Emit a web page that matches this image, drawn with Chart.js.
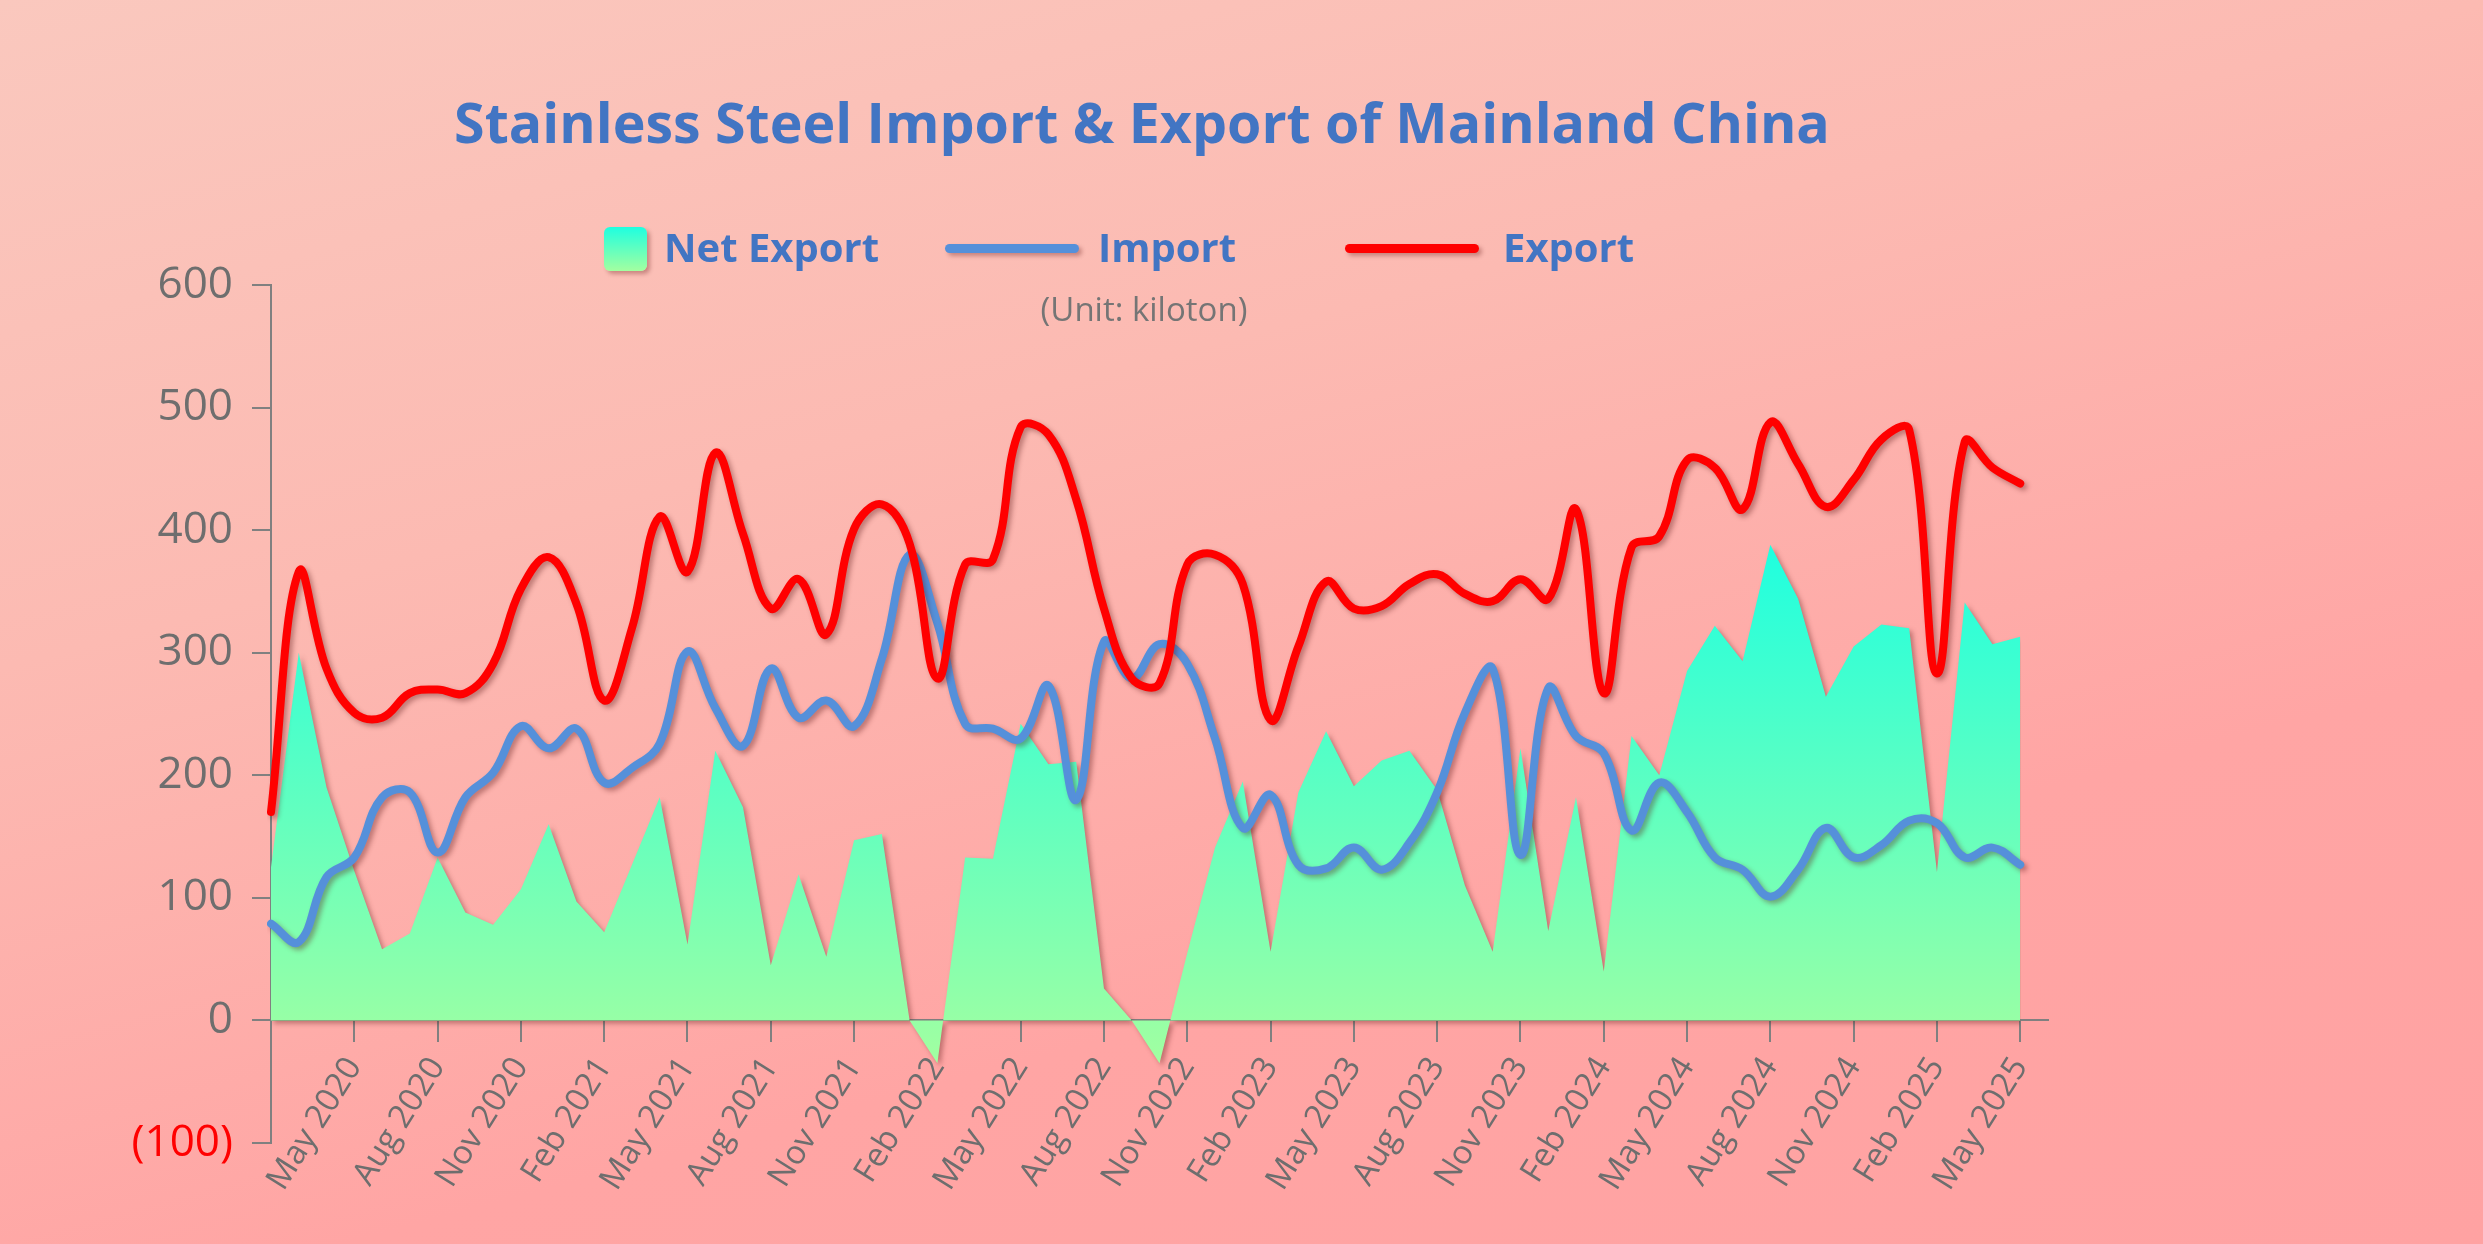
<!DOCTYPE html>
<html>
<head>
<meta charset="utf-8">
<title>Stainless Steel Import & Export of Mainland China</title>
<script src="https://cdn.jsdelivr.net/npm/chart.js@4.4.1/dist/chart.umd.min.js"></script>
<style>
  html, body { margin: 0; padding: 0; }
  body {
    width: 2483px; height: 1244px; overflow: hidden; position: relative;
    background: linear-gradient(165deg, #FAC8BE 0%, #FCBAB2 35%, #FFA5A4 70%, #FFA2A2 100%);
    font-family: "Open Sans", sans-serif;
  }
  #chart { position: absolute; left: 0; top: 0; }
  .txt { position: absolute; line-height: 1; white-space: nowrap; }
  .title { font-size: 55.5px; font-weight: 700; color: #4275C3; top: 94px; left: 1142px; transform: translateX(-50%); }
  .leg { font-size: 40px; font-weight: 700; color: #4275C3; top: 227px; }
  .unit { font-size: 33px; color: #757575; top: 292px; left: 1144px; transform: translateX(-50%); }
  .swatch { position: absolute; left: 604px; top: 227px; width: 43px; height: 44px; border-radius: 6px;
    background: linear-gradient(#1EFFE0, #A3FFA0); box-shadow: 3px 3px 4px rgba(80,0,0,0.3); }
  .lline { position: absolute; top: 244px; width: 134px; height: 9px; border-radius: 5px;
    box-shadow: 3px 3px 4px rgba(80,0,0,0.3); }
</style>
</head>
<body>
<canvas id="chart" width="2483" height="1244"></canvas>

<div class="txt title">Stainless Steel Import &amp; Export of Mainland China</div>
<div class="swatch"></div>
<div class="txt leg" style="left:664px">Net Export</div>
<div class="lline" style="left:945px;background:#5590DA"></div>
<div class="txt leg" style="left:1098px">Import</div>
<div class="lline" style="left:1345px;background:#FF0000"></div>
<div class="txt leg" style="left:1503px">Export</div>
<div class="txt unit">(Unit: kiloton)</div>

<script>
// categorias (mensal, fev/2020 a jun/2025 - o ultimo fica vazio)
const months = [
  'Feb 2020','Mar 2020','Apr 2020','May 2020','Jun 2020','Jul 2020','Aug 2020','Sep 2020','Oct 2020','Nov 2020','Dec 2020',
  'Jan 2021','Feb 2021','Mar 2021','Apr 2021','May 2021','Jun 2021','Jul 2021','Aug 2021','Sep 2021','Oct 2021','Nov 2021','Dec 2021',
  'Jan 2022','Feb 2022','Mar 2022','Apr 2022','May 2022','Jun 2022','Jul 2022','Aug 2022','Sep 2022','Oct 2022','Nov 2022','Dec 2022',
  'Jan 2023','Feb 2023','Mar 2023','Apr 2023','May 2023','Jun 2023','Jul 2023','Aug 2023','Sep 2023','Oct 2023','Nov 2023','Dec 2023',
  'Jan 2024','Feb 2024','Mar 2024','Apr 2024','May 2024','Jun 2024','Jul 2024','Aug 2024','Sep 2024','Oct 2024','Nov 2024','Dec 2024',
  'Jan 2025','Feb 2025','Mar 2025','Apr 2025','May 2025','Jun 2025'
];

// series (kiloton)
const exportsKt = [
  170, 366, 287, 251, 247, 267, 270, 267, 291, 352, 378,
  340, 261, 320, 411, 366, 463, 397, 336, 360, 315, 401, 421,
  389, 279, 372, 376, 484, 478, 425, 336, 279, 275, 372, 380,
  356, 245, 305, 358, 336, 338, 356, 364, 348, 342, 360, 344,
  417, 267, 386, 395, 457, 451, 417, 488, 454, 419, 441, 474,
  482, 283, 472, 451, 438
];
const importsKt = [
  79, 64, 117, 133, 182, 186, 137, 182, 202, 240, 222,
  238, 194, 206, 226, 301, 255, 224, 287, 247, 261, 240, 295,
  380, 324, 242, 238, 230, 273, 180, 309, 279, 307, 291, 230,
  157, 184, 127, 124, 141, 123, 145, 186, 251, 287, 135, 271,
  232, 218, 155, 194, 170, 133, 123, 101, 123, 157, 133, 143,
  163, 161, 133, 141, 127
];
const netExportKt = [
  125, 300, 190, 122, 58, 71, 133, 88, 78, 107, 160,
  97, 72, 127, 182, 62, 220, 174, 45, 119, 52, 147, 152,
  0, -35, 133, 132, 242, 209, 211, 26, 0, -35, 55, 141,
  195, 56, 186, 236, 191, 212, 220, 188, 110, 56, 222, 73,
  182, 40, 232, 200, 285, 322, 293, 388, 344, 264, 305, 323,
  320, 121, 341, 307, 313
];

const yMin = -100, yMax = 600, yStep = 100;

Chart.defaults.font.family = '"Open Sans", sans-serif';

// sombra suave nas series, igual ao grafico original
const shadowPlugin = {
  id: 'seriesShadow',
  beforeDatasetsDraw(chart) {
    const c = chart.ctx;
    c.save();
    c.shadowColor = 'rgba(90,20,20,0.38)';
    c.shadowBlur = 5;
    c.shadowOffsetX = 3;
    c.shadowOffsetY = 3;
  },
  afterDatasetsDraw(chart) {
    chart.ctx.restore();
  }
};

// so mostra o rotulo a cada 3 meses (mai, ago, nov, fev)
function showTick(i) {
  return i > 0 && i < months.length - 1 && i % 3 === 0;
}

function areaFill(context) {
  const chart = context.chart;
  if (!chart.chartArea) return '#60FFC8';
  const y = chart.scales.y;
  const g = chart.ctx.createLinearGradient(0, y.getPixelForValue(390), 0, y.getPixelForValue(-40));
  g.addColorStop(0, '#1EFFE0');
  g.addColorStop(1, '#A3FFA0');
  return g;
}

const ctx = document.getElementById('chart').getContext('2d');
new Chart(ctx, {
  type: 'line',
  data: {
    labels: months,
    datasets: [
      { label: 'Export', data: exportsKt, borderColor: '#FF0000', borderWidth: 8, tension: 0.4,
        pointRadius: 0, fill: false, borderCapStyle: 'round', borderJoinStyle: 'round', order: 0 },
      { label: 'Import', data: importsKt, borderColor: '#5590DA', borderWidth: 8, tension: 0.4,
        pointRadius: 0, fill: false, borderCapStyle: 'round', borderJoinStyle: 'round', order: 1 },
      { label: 'Net Export', data: netExportKt, backgroundColor: areaFill, borderWidth: 0, tension: 0,
        pointRadius: 0, fill: 'origin', order: 2 }
    ]
  },
  options: {
    responsive: false,
    animation: false,
    devicePixelRatio: 1,
    layout: { padding: { left: 0, top: 285, right: 435, bottom: 101 } },
    plugins: { legend: { display: false }, tooltip: { enabled: false } },
    scales: {
      x: {
        position: { y: 0 },
        z: 1,
        afterFit(scale) { scale.height = 0; },
        grid: { drawOnChartArea: false, tickLength: 21, lineWidth: 2, color: '#808080' },
        border: { color: '#808080', width: 2 },
        ticks: {
          autoSkip: false,
          minRotation: 58,
          maxRotation: 58,
          padding: 9,
          color: '#6E6E6E',
          font: { size: 33 },
          callback(val, i) { return showTick(i) ? months[i] : null; }
        }
      },
      y: {
        min: yMin,
        max: yMax,
        afterFit(scale) { scale.width = 271; },
        grid: { drawOnChartArea: false, tickLength: 19, lineWidth: 2, color: '#808080' },
        border: { color: '#808080', width: 2 },
        ticks: {
          stepSize: yStep,
          padding: 19,
          font: { size: 44 },
          color: c => c.tick.value < 0 ? '#FF0000' : '#6E6E6E',
          callback: v => v < 0 ? '(' + Math.abs(v) + ')' : v
        }
      }
    }
  },
  plugins: [shadowPlugin]
});
</script>
</body>
</html>
